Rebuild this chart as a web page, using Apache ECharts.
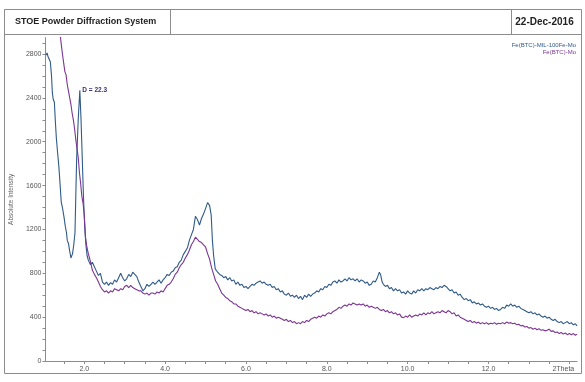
<!DOCTYPE html>
<html>
<head>
<meta charset="utf-8">
<script src="https://cdn.jsdelivr.net/npm/echarts@6/dist/echarts.min.js"></script>
<style>
html,body{margin:0;padding:0;background:#fff;}
#chart{width:585px;height:382px;}
</style>
</head>
<body>
<div id="chart"></div>
<script>
// ---- data ----
const seriesNames = ['Fe(BTC)-MIL-100Fe-Mo', 'Fe(BTC)-Mo'];
const xTickValues = [1.5,2,2.5,3,3.5,4,4.5,5,5.5,6,6.5,7,7.5,8,8.5,9,9.5,10,10.5,11,11.5,12,12.5,13,13.5,14];
const xLabelValues = [2,4,6,8,10,12,14];
const yLabelValues = [0,400,800,1200,1600,2000,2400,2800];
const yTickValues = [0,100,200,300,400,500,600,700,800,900,1000,1100,1200,1300,1400,1500,1600,1700,1800,1900,2000,2100,2200,2300,2400,2500,2600,2700,2800,2900];
const peakLabel = 'D = 22.3';
const peakPoint = [1.89, 2470];

const blueData = [
[1.05,2790],[1.08,2810],[1.10,2780],[1.13,2770],[1.16,2730],[1.19,2600],[1.21,2450],[1.23,2390],[1.26,2360],[1.29,2150],
[1.31,2030],[1.34,1900],[1.37,1780],[1.40,1620],[1.43,1450],[1.46,1400],[1.50,1310],[1.53,1230],[1.56,1170],[1.58,1100],
[1.61,1070],[1.64,1000],[1.67,940],[1.69,935],[1.71,980],[1.74,1060],[1.77,1170],[1.81,1830],[1.85,2200],[1.89,2470],
[1.92,2200],[1.95,1850],[1.98,1500],[2.01,1230],[2.04,1060],[2.07,960],[2.10,920],[2.15,880],[2.20,900],[2.25,860],
[2.30,820],[2.35,780],[2.40,800],[2.45,720],[2.50,700],[2.55,720],[2.60,690],[2.65,715],[2.70,700],[2.75,740],
[2.80,720],[2.85,760],[2.90,800],[2.95,760],[3.00,730],[3.05,750],[3.10,790],[3.15,770],[3.20,810],[3.25,790],
[3.30,770],[3.35,720],[3.40,680],[3.45,640],[3.50,660],[3.55,700],[3.60,680],[3.65,700],[3.70,720],[3.75,700],
[3.80,720],[3.85,740],[3.90,710],[3.95,740],[4.00,760],[4.05,790],[4.10,780],[4.15,810],[4.20,820],[4.25,850],
[4.30,860],[4.35,900],[4.40,920],[4.45,970],[4.50,1000],[4.55,1030],[4.60,1100],[4.65,1150],[4.70,1200],[4.75,1320],
[4.80,1290],[4.85,1240],[4.90,1300],[4.95,1340],[5.00,1390],[5.05,1445],[5.10,1420],[5.14,1330],[5.17,1100],[5.20,960],
[5.24,840],[5.30,810],[5.35,790],[5.40,780],[5.45,760],[5.50,770],[5.55,740],[5.60,760],[5.65,730],[5.70,740],
[5.75,700],[5.80,720],[5.85,690],[5.90,700],[5.95,670],[6.00,680],[6.05,660],[6.10,680],[6.15,700],[6.20,690],
[6.25,710],[6.30,720],[6.35,730],[6.40,710],[6.45,720],[6.50,700],[6.55,690],[6.60,700],[6.65,670],[6.70,680],
[6.75,650],[6.80,660],[6.85,630],[6.90,640],[6.95,610],[7.00,600],[7.05,620],[7.10,590],[7.15,600],[7.20,580],
[7.25,600],[7.30,570],[7.35,590],[7.40,560],[7.45,600],[7.50,580],[7.55,610],[7.60,590],[7.65,610],[7.70,620],
[7.75,640],[7.80,630],[7.85,660],[7.90,650],[7.95,680],[8.00,670],[8.05,700],[8.10,690],[8.15,720],[8.20,730],
[8.25,710],[8.30,740],[8.35,720],[8.40,730],[8.45,750],[8.50,730],[8.55,760],[8.60,740],[8.65,750],[8.70,730],
[8.75,750],[8.80,720],[8.85,740],[8.90,730],[8.95,710],[9.00,720],[9.05,690],[9.10,700],[9.15,730],[9.20,720],
[9.25,760],[9.30,810],[9.33,790],[9.37,720],[9.40,700],[9.45,680],[9.50,690],[9.55,660],[9.60,670],[9.65,640],
[9.70,660],[9.75,640],[9.80,650],[9.85,620],[9.90,630],[9.95,610],[10.00,640],[10.05,620],[10.10,610],[10.15,640],
[10.20,620],[10.25,650],[10.30,640],[10.35,660],[10.40,640],[10.45,660],[10.50,650],[10.55,670],[10.60,660],[10.65,650],
[10.70,670],[10.75,660],[10.80,680],[10.85,670],[10.90,690],[10.95,680],[11.00,660],[11.05,640],[11.10,650],[11.15,620],
[11.20,630],[11.25,600],[11.30,610],[11.35,580],[11.40,560],[11.45,570],[11.50,550],[11.55,560],[11.60,530],[11.65,540],
[11.70,520],[11.75,530],[11.80,510],[11.85,520],[11.90,500],[11.95,490],[12.00,500],[12.05,480],[12.10,490],[12.15,470],
[12.20,480],[12.25,460],[12.30,470],[12.35,490],[12.40,480],[12.45,510],[12.50,500],[12.55,520],[12.60,500],[12.65,510],
[12.70,490],[12.75,500],[12.80,480],[12.85,470],[12.90,460],[12.95,450],[13.00,440],[13.05,450],[13.10,430],[13.15,440],
[13.20,420],[13.25,430],[13.30,410],[13.35,400],[13.40,410],[13.45,390],[13.50,400],[13.55,380],[13.60,370],[13.65,380],
[13.70,360],[13.75,350],[13.80,360],[13.85,340],[13.90,350],[13.95,360],[14.00,340],[14.05,350],[14.10,330],[14.15,340],[14.19,320]
];

const purpleData = [
[1.35,3200],[1.40,2990],[1.43,2890],[1.46,2800],[1.49,2720],[1.52,2640],[1.55,2610],[1.58,2520],[1.61,2460],[1.64,2400],
[1.67,2340],[1.70,2260],[1.73,2200],[1.76,2120],[1.79,2020],[1.82,1940],[1.85,1860],[1.88,1720],[1.91,1620],[1.94,1500],
[1.97,1440],[2.00,1330],[2.03,1130],[2.06,1050],[2.10,980],[2.15,910],[2.20,830],[2.25,790],[2.30,760],[2.35,720],
[2.40,680],[2.45,650],[2.50,630],[2.55,640],[2.60,620],[2.65,640],[2.70,630],[2.75,660],[2.80,650],[2.85,640],
[2.90,660],[2.95,650],[3.00,680],[3.05,690],[3.10,670],[3.15,690],[3.20,670],[3.25,660],[3.30,650],[3.35,640],
[3.40,640],[3.45,620],[3.50,610],[3.55,620],[3.60,600],[3.65,620],[3.70,620],[3.75,610],[3.80,630],[3.85,620],
[3.90,640],[3.95,630],[4.00,660],[4.05,690],[4.10,700],[4.15,720],[4.20,750],[4.25,790],[4.30,810],[4.35,850],
[4.40,880],[4.45,900],[4.50,940],[4.55,970],[4.60,1010],[4.65,1060],[4.70,1090],[4.75,1130],[4.80,1110],[4.85,1090],
[4.90,1080],[4.95,1060],[5.00,1040],[5.05,980],[5.10,930],[5.15,850],[5.20,790],[5.25,730],[5.30,700],[5.35,660],
[5.40,620],[5.45,600],[5.50,580],[5.55,570],[5.60,550],[5.65,540],[5.70,520],[5.75,520],[5.80,500],[5.85,490],
[5.90,480],[5.95,470],[6.00,460],[6.05,470],[6.10,450],[6.15,460],[6.20,440],[6.25,450],[6.30,430],[6.35,440],
[6.40,430],[6.45,420],[6.50,430],[6.55,410],[6.60,420],[6.65,400],[6.70,410],[6.75,390],[6.80,400],[6.85,390],
[6.90,380],[6.95,370],[7.00,380],[7.05,360],[7.10,370],[7.15,350],[7.20,360],[7.25,340],[7.30,350],[7.35,340],
[7.40,360],[7.45,350],[7.50,370],[7.55,360],[7.60,380],[7.65,390],[7.70,400],[7.75,390],[7.80,410],[7.85,400],
[7.90,420],[7.95,410],[8.00,430],[8.05,440],[8.10,430],[8.15,450],[8.20,460],[8.25,470],[8.30,490],[8.35,480],
[8.40,500],[8.45,510],[8.50,500],[8.55,520],[8.60,510],[8.65,530],[8.70,520],[8.75,510],[8.80,520],[8.85,510],
[8.90,520],[8.95,500],[9.00,510],[9.05,490],[9.10,500],[9.15,490],[9.20,480],[9.25,490],[9.30,470],[9.35,460],
[9.40,470],[9.45,450],[9.50,460],[9.55,440],[9.60,450],[9.65,430],[9.70,440],[9.75,420],[9.80,430],[9.85,400],
[9.90,395],[9.95,410],[10.00,400],[10.05,420],[10.10,400],[10.15,410],[10.20,420],[10.25,410],[10.30,430],[10.35,420],
[10.40,440],[10.45,420],[10.50,440],[10.55,430],[10.60,450],[10.65,430],[10.70,440],[10.75,450],[10.80,440],[10.85,460],
[10.90,450],[10.95,440],[11.00,460],[11.05,450],[11.10,430],[11.15,440],[11.20,410],[11.25,420],[11.30,400],[11.35,390],
[11.40,380],[11.45,370],[11.50,360],[11.55,370],[11.60,350],[11.65,360],[11.70,345],[11.75,355],[11.80,340],[11.85,350],
[11.90,340],[11.95,350],[12.00,335],[12.05,345],[12.10,340],[12.15,350],[12.20,335],[12.25,345],[12.30,340],[12.35,350],
[12.40,340],[12.45,355],[12.50,345],[12.55,350],[12.60,340],[12.65,345],[12.70,330],[12.75,335],[12.80,320],[12.85,325],
[12.90,310],[12.95,315],[13.00,300],[13.05,305],[13.10,290],[13.15,300],[13.20,285],[13.25,295],[13.30,280],[13.35,285],
[13.40,275],[13.45,280],[13.50,290],[13.55,270],[13.60,275],[13.65,260],[13.70,265],[13.75,250],[13.80,260],[13.85,245],
[13.90,255],[13.95,240],[14.00,250],[14.05,240],[14.10,250],[14.15,235],[14.19,245]
];

const colors = ['#2f5a88', '#7b3592'];
const FONT = 'Liberation Sans, Arial, sans-serif';

const chart = echarts.init(document.getElementById('chart'), null, {renderer: 'canvas'});
chart.setOption({
  backgroundColor: '#ffffff',
  animation: false,
  grid: {left: 42, right: 8, top: 37.6, bottom: 21, containLabel: false},
  xAxis: {
    type: 'value', min: 1.04, max: 14.19,
    axisLine: {show: true, lineStyle: {color: '#8c8c8c', width: 1}},
    axisTick: {show: true, customValues: xTickValues, length: 3, lineStyle: {color: '#8c8c8c'}},
    axisLabel: {
      customValues: xLabelValues, fontSize: 7, color: '#555', margin: 5, fontFamily: FONT,
      formatter: v => (v === 14 ? '{t|2Theta}' : v.toFixed(1)),
      rich: {t: {fontSize: 7, color: '#555', fontFamily: FONT, padding: [0, 12, 0, 0]}}
    },
    splitLine: {show: false}
  },
  yAxis: {
    type: 'value', min: 0, max: 2950,
    name: 'Absolute Intensity', nameLocation: 'middle', nameRotate: 90, nameGap: 29,
    nameTextStyle: {fontSize: 6.5, color: '#666', fontFamily: FONT},
    axisLine: {show: true, lineStyle: {color: '#8c8c8c', width: 1}},
    axisTick: {show: true, customValues: yTickValues, length: 3, lineStyle: {color: '#8c8c8c'}},
    axisLabel: {customValues: yLabelValues, fontSize: 7, color: '#555', margin: 4, fontFamily: FONT,
                formatter: v => String(v)},
    splitLine: {show: false}
  },
  series: [
    {
      name: seriesNames[0], type: 'line', data: blueData, showSymbol: false, clip: true,
      lineStyle: {color: colors[0], width: 1.1}, itemStyle: {color: colors[0]},
      markPoint: {
        symbol: 'circle', symbolSize: 1, itemStyle: {color: 'rgba(0,0,0,0)'},
        label: {show: true, position: 'right', distance: 2, formatter: peakLabel, fontSize: 6.5,
                fontWeight: 'bold', color: '#3a3070', fontFamily: FONT},
        data: [{coord: peakPoint}]
      }
    },
    {
      name: seriesNames[1], type: 'line', data: purpleData, showSymbol: false, clip: true,
      lineStyle: {color: colors[1], width: 1.1}, itemStyle: {color: colors[1]}
    }
  ],
  graphic: [
    {type: 'rect', silent: true, shape: {x: 4.5, y: 9.5, width: 577, height: 364},
     style: {fill: 'none', stroke: '#8c8c8c', lineWidth: 1}},
    {type: 'line', silent: true, shape: {x1: 4.5, y1: 34.5, x2: 581.5, y2: 34.5},
     style: {stroke: '#8c8c8c', lineWidth: 1}},
    {type: 'line', silent: true, shape: {x1: 170.5, y1: 9.5, x2: 170.5, y2: 34.5},
     style: {stroke: '#8c8c8c', lineWidth: 1}},
    {type: 'line', silent: true, shape: {x1: 511.5, y1: 9.5, x2: 511.5, y2: 34.5},
     style: {stroke: '#8c8c8c', lineWidth: 1}},
    {type: 'text', silent: true, x: 15, y: 22,
     style: {text: 'STOE Powder Diffraction System', font: 'bold 9px ' + FONT, fill: '#222', textVerticalAlign: 'middle'}},
    {type: 'text', silent: true, x: 544.5, y: 22,
     style: {text: '22-Dec-2016', font: 'bold 10px ' + FONT, fill: '#222', textAlign: 'center', textVerticalAlign: 'middle'}},
    {type: 'text', silent: true, x: 576, y: 45,
     style: {text: seriesNames[0], font: '6px ' + FONT, fill: colors[0], textAlign: 'right', textVerticalAlign: 'middle'}},
    {type: 'text', silent: true, x: 576, y: 52,
     style: {text: seriesNames[1], font: '6px ' + FONT, fill: colors[1], textAlign: 'right', textVerticalAlign: 'middle'}}
  ]
});
</script>
</body>
</html>
